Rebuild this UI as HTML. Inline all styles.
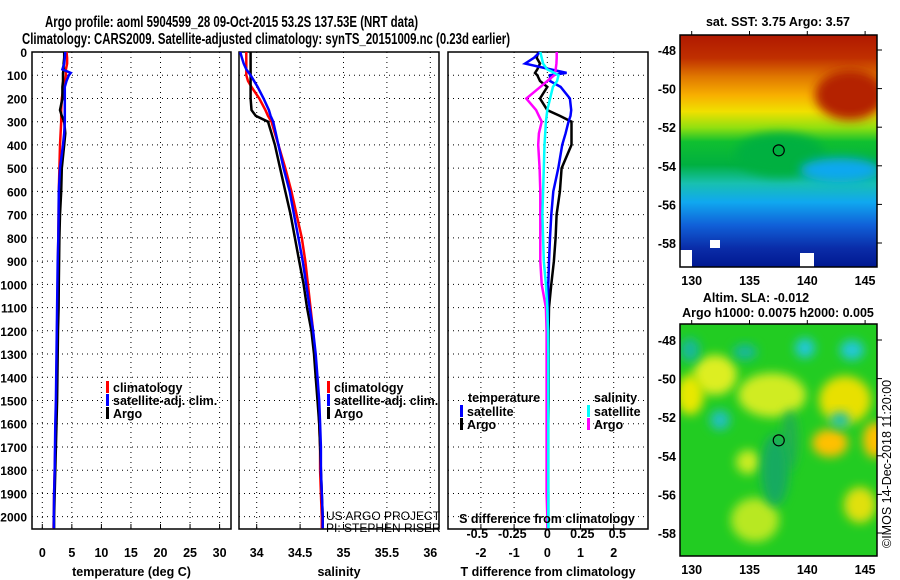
<!DOCTYPE html>
<html><head><meta charset="utf-8"><style>
body{margin:0;background:#fff;}
svg{display:block;font-family:"Liberation Sans",sans-serif;font-weight:bold;}
</style></head><body>
<svg id="c" width="900" height="580" viewBox="0 0 900 580">
<defs>
<linearGradient id="sstg" x1="0" y1="0" x2="0" y2="1">
<stop offset="0" stop-color="#b01800"/><stop offset="0.1" stop-color="#c03000"/>
<stop offset="0.18" stop-color="#e07800"/><stop offset="0.26" stop-color="#f8b000"/>
<stop offset="0.33" stop-color="#f0e000"/><stop offset="0.4" stop-color="#90e010"/>
<stop offset="0.46" stop-color="#10c030"/><stop offset="0.56" stop-color="#00b040"/>
<stop offset="0.64" stop-color="#18c0b0"/><stop offset="0.72" stop-color="#10a8f0"/>
<stop offset="0.82" stop-color="#1060d8"/><stop offset="0.92" stop-color="#0a2ca8"/><stop offset="1" stop-color="#001890"/>
</linearGradient>
<filter id="bl" x="-50%" y="-50%" width="200%" height="200%"><feGaussianBlur stdDeviation="5"/></filter>
<clipPath id="m1c"><rect x="680" y="35" width="197" height="232"/></clipPath>
<clipPath id="m2c"><rect x="680" y="324" width="197" height="232"/></clipPath>
</defs>
<text x="45" y="27" font-size="15.5" textLength="373" lengthAdjust="spacingAndGlyphs">Argo profile: aoml 5904599_28 09-Oct-2015 53.2S 137.53E (NRT data)</text>
<text x="22" y="44" font-size="15.5" textLength="488" lengthAdjust="spacingAndGlyphs">Climatology: CARS2009. Satellite-adjusted climatology: synTS_20151009.nc (0.23d earlier)</text>
<g id="g"></g>
</svg>
<script>
const depths=[0,25,50,75,90,100,125,150,200,250,275,300,350,400,500,600,700,800,900,1000,1100,1200,1300,1400,1500,1600,1700,1800,1900,2000,2050];
const tempClim=[4.1,4.2,4.2,4.0,4.0,4.0,3.8,3.6,3.3,3.2,3.2,3.2,3.1,3.0,2.9,2.8,2.75,2.7,2.65,2.6,2.55,2.5,2.45,2.4,2.35,2.3,2.2,2.1,2.0,1.95,1.9];
const tempSat=[3.9,3.8,3.7,3.4,4.8,4.5,4.1,3.8,3.8,3.8,3.8,3.8,3.7,3.5,3.0,2.8,2.75,2.7,2.6,2.55,2.5,2.45,2.4,2.35,2.3,2.2,2.15,2.1,2.0,1.95,1.95];
const tempArgo=[3.7,3.7,3.6,3.6,3.5,3.5,3.5,3.4,3.4,3.0,3.3,3.7,3.9,3.7,3.3,3.2,3.0,2.9,2.85,2.8,2.75,2.65,2.6,2.55,2.5,2.4,2.3,2.2,2.1,2.0,2.0];
const salClim=[33.88,33.88,33.88,33.88,33.88,33.88,33.9,33.94,34.03,34.1,34.13,34.17,34.21,34.25,34.33,34.4,34.46,34.52,34.56,34.59,34.62,34.65,34.67,34.69,34.71,34.72,34.73,34.73,34.74,34.75,34.75];
const salSat=[33.81,33.83,33.85,33.88,33.91,33.93,33.97,34.01,34.08,34.14,34.16,34.19,34.22,34.25,34.31,34.38,34.43,34.48,34.53,34.57,34.61,34.65,34.68,34.7,34.72,34.73,34.74,34.74,34.75,34.76,34.76];
const salArgo=[33.93,33.93,33.93,33.93,33.93,33.93,33.93,33.93,33.93,33.94,33.99,34.13,34.17,34.21,34.27,34.33,34.39,34.44,34.49,34.54,34.58,34.63,34.66,34.68,34.7,34.72,34.73,34.74,34.75,34.76,34.76];
const tDiffSat=[-0.22,-0.4,-0.67,0.1,0.58,0.08,0.08,0.4,0.68,0.72,0.7,0.64,0.55,0.45,0.33,0.18,0.12,0.08,0.05,0.03,0.02,0.02,0.02,0.02,0.02,0.02,0.02,0.02,0.03,0.03,0.03];
const tDiffArgo=[-0.27,-0.32,-0.22,-0.3,-0.37,-0.3,-0.22,0.0,-0.22,0.0,0.38,0.73,0.73,0.73,0.43,0.38,0.28,0.25,0.2,0.12,0.05,0.04,0.04,0.04,0.04,0.03,0.03,0.03,0.03,0.03,0.03];
const sDiffSat=[-0.05,-0.04,-0.03,0.0,0.05,0.08,0.07,0.04,0.02,0.0,-0.005,-0.01,-0.015,-0.02,-0.025,-0.03,-0.035,-0.03,-0.025,-0.01,0.0,0.005,0.007,0.007,0.007,0.007,0.007,0.007,0.007,0.007,0.007];
const sDiffArgo=[0.067,0.067,0.065,0.06,0.055,0.05,0.0,-0.05,-0.15,-0.08,-0.06,-0.04,-0.06,-0.065,-0.055,-0.05,-0.05,-0.05,-0.05,-0.04,-0.01,-0.005,-0.005,-0.005,-0.005,-0.005,-0.005,-0.005,-0.005,0.0,0.0];
const tempTicks=[0,5,10,15,20,25,30];
const salTicks=[34,34.5,35,35.5,36];
const salTickLabels=["34","34.5","35","35.5","36"];
const tdTicks=[-2,-1,0,1,2];
const sdTicks=[-0.5,-0.25,0,0.25,0.5];
const sdTickLabels=["-0.5","-0.25","0","0.25","0.5"];
const depthTicks=[0,100,200,300,400,500,600,700,800,900,1000,1100,1200,1300,1400,1500,1600,1700,1800,1900,2000];
const latTicks=[-48,-50,-52,-54,-56,-58];
const lonTicks=[130,135,140,145];

const NS='http://www.w3.org/2000/svg';
const G=document.getElementById('g');
function mk(t,a,p){const e=document.createElementNS(NS,t);for(const k in a)e.setAttribute(k,a[k]);(p||G).appendChild(e);return e;}
const PT=52,PB=529;
const yD=d=>PT+(d-0)*(PB-PT)/2053;
const xT=v=>42.3+v*5.91;
const xS=v=>256.7+(v-34)*86.8;
const xTD=v=>547.3+v*33.2;
const xSD=v=>547.3+v*140;

function panel(name,x0,x1,xt,ticks,labels,title,vgrid){
  const r=mk('rect',{x:x0,y:PT,width:x1-x0,height:PB-PT,fill:'none',stroke:'#000','stroke-width':1.5});
  
  depthTicks.forEach(d=>{const l=mk('line',{x1:x0,x2:x1,y1:yD(d),y2:yD(d),stroke:'#000','stroke-dasharray':'1,4'});
    });
  vgrid.forEach(v=>{const l=mk('line',{x1:xt(v),x2:xt(v),y1:PT,y2:PB,stroke:'#000','stroke-dasharray':'1,4'});
    });
  ticks.forEach((v,i)=>{const t=mk('text',{x:xt(v),y:557,'text-anchor':'middle','font-size':12.5});t.textContent=labels[i];
    
    mk('line',{x1:xt(v),x2:xt(v),y1:PB,y2:PB-5,stroke:'#000'});});
  const tt=mk('text',{x:(x0+x1)/2,y:576,'text-anchor':'middle','font-size':12.5});tt.textContent=title;
  
}
panel('temperature-panel',32,231,xT,tempTicks,tempTicks.map(String),'temperature (deg C)',tempTicks);
panel('salinity-panel',239,439,xS,salTicks,salTickLabels,'salinity',salTicks);
panel('difference-panel',448,648,xTD,tdTicks,tdTicks.map(String),'T difference from climatology',tdTicks);
depthTicks.forEach(d=>{const t=mk('text',{x:27,y:yD(d)+5,'text-anchor':'end','font-size':12});t.textContent=d;
  });

function line(vals,xf,col,name,w){
  const p=mk('polyline',{points:vals.map((v,i)=>xf(v).toFixed(1)+','+yD(depths[i]).toFixed(1)).join(' '),fill:'none',stroke:col,'stroke-width':w||2.5});
  
}
line(tempClim,xT,'#f00','temp-climatology-line');
line(tempArgo,xT,'#000','temp-argo-line');
line(tempSat,xT,'#00f','temp-satellite-line');
line(salClim,xS,'#f00','sal-climatology-line');
line(salArgo,xS,'#000','sal-argo-line');
line(salSat,xS,'#00f','sal-satellite-line');
line(tDiffArgo,xTD,'#000','tdiff-argo-line');
line(tDiffSat,xTD,'#00f','tdiff-satellite-line');
line(sDiffArgo,xSD,'#f0f','sdiff-argo-line');
line(sDiffSat,xSD,'#0ff','sdiff-satellite-line');

function leg(x,y,col,txt,name){mk('rect',{x:x,y:y-11,width:3,height:12,fill:col});
  const t=mk('text',{x:x+7,y:y,'font-size':12.5});t.textContent=txt;
  }
leg(106,392,'#f00','climatology','temp-legend-climatology');
leg(106,405,'#00f','satellite-adj. clim.','temp-legend-satellite');
leg(106,418,'#000','Argo','temp-legend-argo');
leg(327,392,'#f00','climatology','sal-legend-climatology');
leg(327,405,'#00f','satellite-adj. clim.','sal-legend-satellite');
leg(327,418,'#000','Argo','sal-legend-argo');
let t=mk('text',{x:468,y:402,'font-size':12.5});t.textContent='temperature';
leg(460,416,'#00f','satellite','tdiff-legend-satellite');
leg(460,429,'#000','Argo','tdiff-legend-argo');
t=mk('text',{x:594,y:402,'font-size':12.5});t.textContent='salinity';
leg(587,416,'#0ff','satellite','sdiff-legend-satellite');
leg(587,429,'#f0f','Argo','sdiff-legend-argo');
t=mk('text',{x:547,y:523,'text-anchor':'middle','font-size':12.5});t.textContent='S difference from climatology';
sdTicks.forEach((v,i)=>{const e=mk('text',{x:xSD(v),y:538,'text-anchor':'middle','font-size':12.5});e.textContent=sdTickLabels[i];
  });
t=mk('text',{x:326,y:520,'font-size':12,'font-weight':'normal'});t.textContent='US ARGO PROJECT';
t=mk('text',{x:326,y:532,'font-size':12,'font-weight':'normal'});t.textContent='PI: STEPHEN RISER';

// maps
const mx=v=>691.7+(v-130)*11.56;
function mapAxes(name,y0,lat48){
  const my=v=>lat48+(-48-v)*19.3;
  mk('rect',{x:680,y:y0,width:197,height:232,fill:'none',stroke:'#000','stroke-width':1.5});
  latTicks.forEach(v=>{const e=mk('text',{x:676,y:my(v)+5,'text-anchor':'end','font-size':12.5});e.textContent=v;
    
    mk('line',{x1:877,x2:882,y1:my(v),y2:my(v),stroke:'#000'});});
  lonTicks.forEach(v=>{const e=mk('text',{x:mx(v),y:y0+250,'text-anchor':'middle','font-size':12.5});e.textContent=v;
    
    mk('line',{x1:mx(v),x2:mx(v),y1:y0,y2:y0-4,stroke:'#000'});});
  mk('circle',{cx:mx(137.53),cy:my(-53.2),r:5.5,fill:'none',stroke:'#000','stroke-width':1.2});
}
const m1=mk('g',{'clip-path':'url(#m1c)'});
mk('rect',{x:680,y:35,width:197,height:232,fill:'url(#sstg)'},m1);
mk('ellipse',{cx:850,cy:95,rx:35,ry:25,fill:'#b42000',filter:'url(#bl)'},m1);
mk('ellipse',{cx:780,cy:155,rx:45,ry:22,fill:'#00b040',filter:'url(#bl)'},m1);
mk('ellipse',{cx:840,cy:170,rx:40,ry:12,fill:'#10a8f0',filter:'url(#bl)'},m1);
mk('rect',{x:680,y:250,width:12,height:17,fill:'#fff'},m1);
mk('rect',{x:710,y:240,width:10,height:8,fill:'#fff'},m1);
mk('rect',{x:800,y:253,width:14,height:14,fill:'#fff'},m1);
const m2=mk('g',{'clip-path':'url(#m2c)'});
mk('rect',{x:680,y:324,width:197,height:232,fill:'#22cc22'},m2);
[[715,375,22,20,'#ddee22'],[690,395,14,20,'#e8e800'],[772,395,34,22,'#d0ec22'],[845,400,26,24,'#e8e000'],[830,443,18,14,'#ffc000'],[875,440,12,18,'#ffc000'],[748,462,12,12,'#c8ec22'],[860,505,16,18,'#e0e010'],[755,520,24,22,'#b8e820'],[790,440,8,30,'#20b050'],[690,350,10,12,'#18b89a'],[745,352,12,8,'#18b89a'],[805,348,10,10,'#20c8d8'],[852,350,12,10,'#20c8d8'],[720,420,10,10,'#20c0c0'],[840,420,10,8,'#20c0a8'],[775,470,14,36,'#12aa60']].forEach(b=>
  mk('ellipse',{cx:b[0],cy:b[1],rx:b[2],ry:b[3],fill:b[4],filter:'url(#bl)'},m2));
mapAxes('sst-map',35,50);
mapAxes('sla-map',324,340);
t=mk('text',{x:778,y:26,'text-anchor':'middle','font-size':12.5});t.textContent='sat. SST: 3.75 Argo: 3.57';

t=mk('text',{x:756,y:302,'text-anchor':'middle','font-size':12.5});t.textContent='Altim. SLA: -0.012';
t=mk('text',{x:778,y:317,'text-anchor':'middle','font-size':12.5});t.textContent='Argo h1000: 0.0075 h2000: 0.005';
t=mk('text',{x:0,y:0,'font-size':12.5,'font-weight':'normal',transform:'translate(891,548) rotate(-90)'});t.textContent='©IMOS 14-Dec-2018 11:20:00';

</script>
</body></html>
